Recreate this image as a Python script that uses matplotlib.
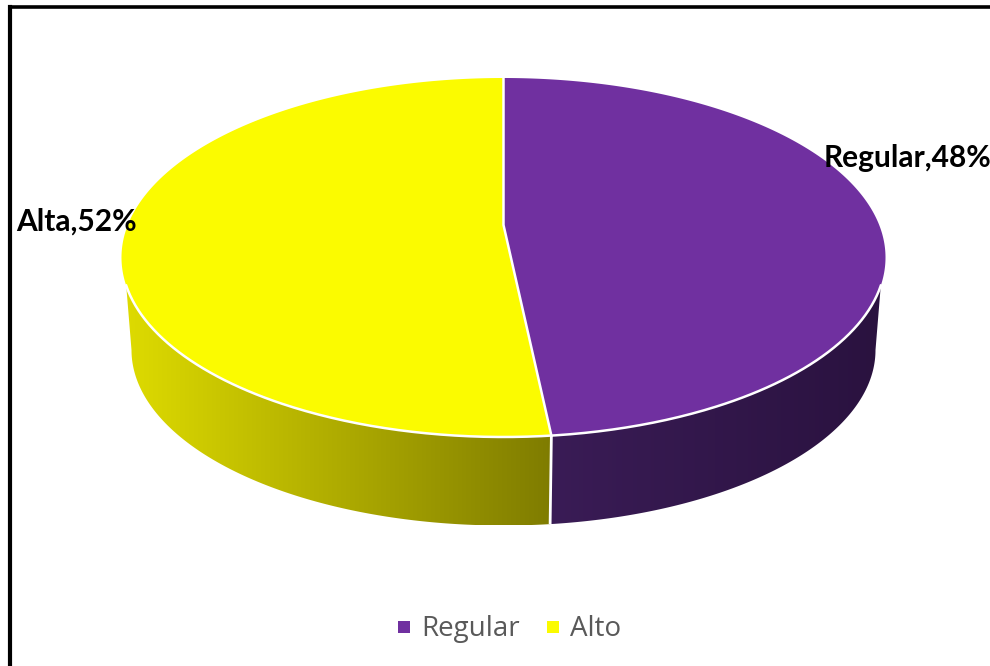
import numpy as np
import matplotlib
matplotlib.use("Agg")
import matplotlib.pyplot as plt
from matplotlib.colors import to_rgb
from matplotlib.patches import Polygon

categories = ["Regular", "Alto"]
point_labels = ["Regular,48%", "Alta,52%"]
values = [48, 52]

top_colors = ["#7030A0", "#FBFB00"]
wall_left = ["#3A1C56", "#DEDB00"]
wall_right = ["#2A123F", "#7F7C00"]

# pie geometry in pixels
cx, cy, rx, ry = 503.5, 257.5, 382, 179.5
apex_y = 225
bcx, bcy, brx, bry = 503.5, 350, 372, 175.5
wall_from = 99
wall_to = 261

W, H = 990, 666
fig = plt.figure(figsize=(W / 100, H / 100), dpi=100, facecolor="white")
ax = fig.add_axes([0, 0, 1, 1])
ax.axis("off")

def top_pt(t):
    r = np.radians(t)
    return cx + rx * np.sin(r), cy - ry * np.cos(r)

def bot_pt(t):
    r = np.radians(t)
    return bcx + brx * np.sin(r), bcy - bry * np.cos(r)

fr = np.array(values) / sum(values)
split = 360 * fr[0]
ranges = [(0, split), (split, 360)]

# side walls: a horizontal shade clipped to the outline of each wall
wall_top = [(wall_from, split), (split, wall_to)]
wall_bot = [(90, split), (split, 270)]
for i in range(2):
    tx, ty = top_pt(np.linspace(*wall_top[i], 200))
    bx, by = bot_pt(np.linspace(*wall_bot[i], 200))
    outline = np.c_[np.r_[tx, bx[::-1]], np.r_[ty, by[::-1]]]
    x0, x1 = outline[:, 0].min(), outline[:, 0].max()
    c0, c1 = np.array(to_rgb(wall_left[i])), np.array(to_rgb(wall_right[i]))
    ramp = np.linspace(0, 1, 400)[None, :, None]
    img = c0[None, None, :] + (c1 - c0)[None, None, :] * ramp
    im = ax.imshow(img, extent=[x0, x1, outline[:, 1].max(), outline[:, 1].min()],
                   aspect="auto", zorder=1, interpolation="bilinear")
    patch = Polygon(outline, closed=True, transform=ax.transData, fc="none", ec="none")
    ax.add_patch(patch)
    im.set_clip_path(patch)

# white seam between the two walls
xs0, ys0 = top_pt(split)
xs1, ys1 = bot_pt(split)
ax.plot([xs0, xs1], [ys0, ys1], color="white", lw=2, zorder=2, solid_capstyle="butt")

# top face
for (a, b), col in zip(ranges, top_colors):
    th = np.linspace(a, b, 300)
    px, py = top_pt(th)
    ax.fill(np.r_[cx, px], np.r_[apex_y, py], color=col, lw=0, zorder=3)

# white rim and slice borders
th = np.linspace(wall_from, wall_to, 300)
px, py = top_pt(th)
ax.plot(px, py, color="white", lw=1.8, zorder=4)
x0, y0 = top_pt(0)
ax.plot([x0, cx, xs0], [y0, apex_y, ys0], color="white", lw=1.8, zorder=4, solid_joinstyle="miter")

# frame
ax.plot([10, 10, W], [H, 7, 7], color="black", lw=2.6, zorder=5, solid_joinstyle="miter")
ax.plot([10, 10], [H, 7], color="black", lw=3, zorder=5)

# point labels
fam = "Lato"
ax.text(907, 158, point_labels[0], ha="center", va="center", fontsize=21.5,
        fontweight="bold", family=fam, color="black", zorder=6)
ax.text(76.5, 222, point_labels[1], ha="center", va="center", fontsize=21.5,
        fontweight="bold", family=fam, color="black", zorder=6)

# legend
leg_sq = [404, 553]
leg_tx = [421, 570]
for i, name in enumerate(categories):
    ax.scatter([leg_sq[i]], [627], marker="s", s=84, color=top_colors[i], lw=0, zorder=6)
    ax.text(leg_tx[i], 629, name, ha="left", va="center", fontsize=20,
            family="Open Sans", color="#595959", zorder=6)

ax.set_xlim(0, W)
ax.set_ylim(H, 0)
fig.savefig("out.png", dpi=100, facecolor="white")
